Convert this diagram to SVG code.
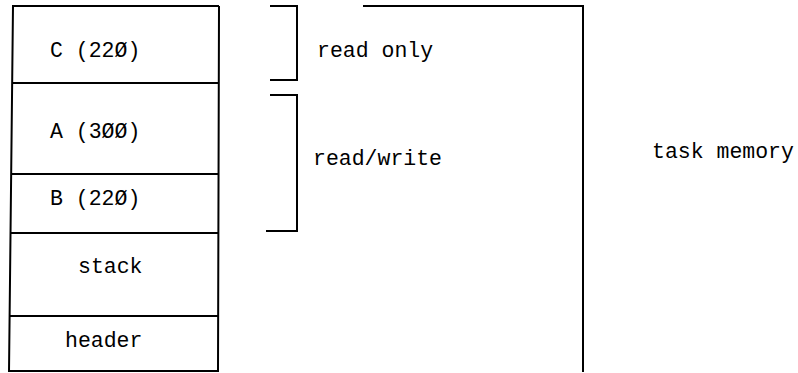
<svg xmlns="http://www.w3.org/2000/svg" width="798" height="373" viewBox="0 0 798 373">
<style>
.ln{stroke:#000;stroke-width:2;fill:none}
text{font-family:"Liberation Mono","DejaVu Sans Mono",monospace;font-size:21.5px;fill:#000}
</style>
<rect width="798" height="373" fill="#fff"/>
<g id="memory-stack">
<g id="seg-c"><path class="ln" d="M12,6 H219 M12,83 H219"/><text x="50" y="57">C (22Ø)</text></g>
<g id="seg-a"><path class="ln" d="M12,174 H219"/><text x="50" y="138">A (3ØØ)</text></g>
<g id="seg-b"><path class="ln" d="M11,233 H219"/><text x="50" y="205">B (22Ø)</text></g>
<g id="seg-stack"><path class="ln" d="M10,316 H219"/><text x="78" y="273">stack</text></g>
<g id="seg-header"><path class="ln" d="M9,371 H218"/><text x="65" y="347">header</text></g>
<path class="ln" d="M13,6 L9,372 M219,6 L218,372"/>
</g>
<g id="connectors">
<path id="bracket-ro" class="ln" d="M270,6 H297 V80 H270"/>
<path id="bracket-rw" class="ln" d="M270,95 H297 V231 H266"/>
<path id="bracket-task" class="ln" d="M363,6 H583 V372"/>
</g>
<g id="label-ro"><text x="317" y="57">read only</text></g>
<g id="label-rw"><text x="313" y="165">read/write</text></g>
<g id="label-task"><text x="652" y="158">task memory</text></g>
</svg>
